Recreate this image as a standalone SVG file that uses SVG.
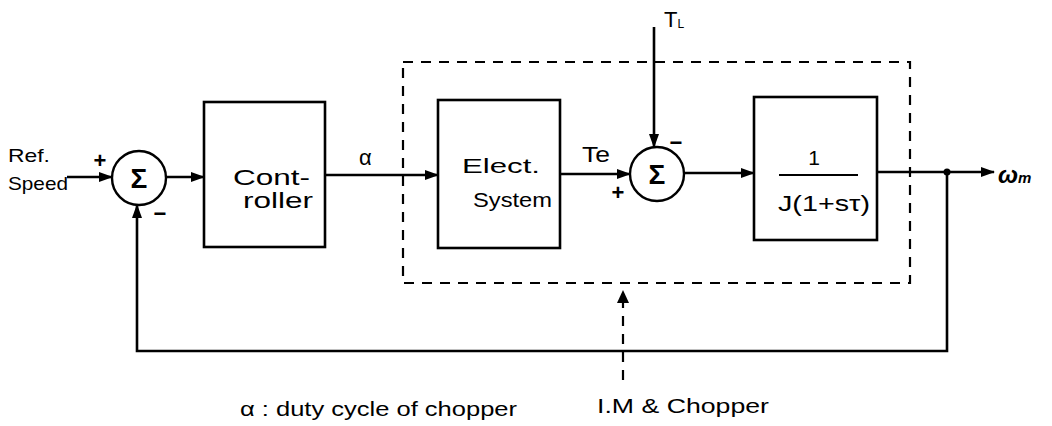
<svg xmlns="http://www.w3.org/2000/svg" width="1052" height="426" viewBox="0 0 1052 426">
<style>
.box{fill:#fff;stroke:#000;stroke-width:2.6}
.sum{fill:#fff;stroke:#000;stroke-width:2.4}
.ln{fill:none;stroke:#000;stroke-width:2.6}
.dash{fill:none;stroke:#000;stroke-width:2.2;stroke-dasharray:10 8}
.t{font-family:"Liberation Sans","DejaVu Sans",sans-serif;fill:#000}
.m{font-family:"Liberation Sans","DejaVu Sans",sans-serif;fill:#000;text-anchor:middle}
</style>
<defs>
<marker id="arr" markerUnits="userSpaceOnUse" markerWidth="14" markerHeight="10" refX="13" refY="5" orient="auto">
<path d="M0,0 L14,5 L0,10 Z" fill="#000"/>
</marker>
</defs>
<rect id="module-box" x="403" y="62" width="507" height="221" class="dash"/>
<g id="connectors">
<path class="ln" d="M67 177 H112" marker-end="url(#arr)"/>
<path class="ln" d="M166 177 H204" marker-end="url(#arr)"/>
<path class="ln" d="M325 175 H438" marker-end="url(#arr)"/>
<path class="ln" d="M560 174 H630" marker-end="url(#arr)"/>
<path class="ln" d="M654 27 V147" marker-end="url(#arr)"/>
<path class="ln" d="M684 173 H754" marker-end="url(#arr)"/>
<path class="ln" d="M877 172 H994" marker-end="url(#arr)"/>
<path class="ln" d="M947 172 V351 H137 V205" marker-end="url(#arr)"/>
<circle cx="947" cy="172" r="3.5" fill="#000"/>
<path class="dash" d="M623 380 V300"/>
<path d="M617 303 L623 290 L629 303 Z" fill="#000"/>
</g>
<g id="sum1">
<circle class="sum" cx="139" cy="178" r="27"/>
<text class="m" x="139" y="188" font-size="28" font-weight="bold">Σ</text>
<text class="m" x="100" y="168" font-size="22" font-weight="bold">+</text>
<text class="m" x="160" y="221" font-size="22" font-weight="bold">−</text>
</g>
<g id="ref-label">
<text class="t" x="8" y="162" font-size="19" textLength="42" lengthAdjust="spacingAndGlyphs">Ref.</text>
<text class="t" x="8" y="190" font-size="19" textLength="60" lengthAdjust="spacingAndGlyphs">Speed</text>
</g>
<g id="controller">
<rect class="box" x="204" y="102" width="121" height="145"/>
<text class="t" x="233" y="185" font-size="22" textLength="77" lengthAdjust="spacingAndGlyphs">Cont-</text>
<text class="t" x="243" y="208" font-size="22" textLength="70" lengthAdjust="spacingAndGlyphs">roller</text>
</g>
<text class="t" x="359" y="165" font-size="22">α</text>
<g id="elect">
<rect class="box" x="438" y="100" width="122" height="148"/>
<text class="t" x="462" y="173" font-size="21" textLength="78" lengthAdjust="spacingAndGlyphs">Elect.</text>
<text class="t" x="473" y="207" font-size="21" textLength="79" lengthAdjust="spacingAndGlyphs">System</text>
</g>
<text class="t" x="582" y="162" font-size="22" textLength="28" lengthAdjust="spacingAndGlyphs">Te</text>
<g id="sum2">
<circle class="sum" cx="657" cy="174" r="27"/>
<text class="m" x="657" y="184" font-size="28" font-weight="bold">Σ</text>
<text class="m" x="618" y="200" font-size="22" font-weight="bold">+</text>
<text class="m" x="676" y="150" font-size="22" font-weight="bold">−</text>
</g>
<text class="t" x="664" y="27" font-size="22">T<tspan font-size="12" dy="1">L</tspan></text>
<g id="mech">
<rect class="box" x="754" y="97" width="123" height="143"/>
<text class="m" x="814" y="165" font-size="21">1</text>
<line x1="779" y1="175" x2="858" y2="175" stroke="#000" stroke-width="2.2"/>
<text class="t" x="778" y="211" font-size="22" textLength="92" lengthAdjust="spacingAndGlyphs">J(1+sτ)</text>
</g>
<text class="t" x="998" y="183" font-size="24" font-style="italic" font-weight="bold">ω<tspan font-size="15">m</tspan></text>
<text class="t" x="240" y="416" font-size="20" textLength="277" lengthAdjust="spacingAndGlyphs">α : duty cycle of chopper</text>
<text class="t" x="597" y="413" font-size="21" textLength="172" lengthAdjust="spacingAndGlyphs">I.M &amp; Chopper</text>
</svg>
